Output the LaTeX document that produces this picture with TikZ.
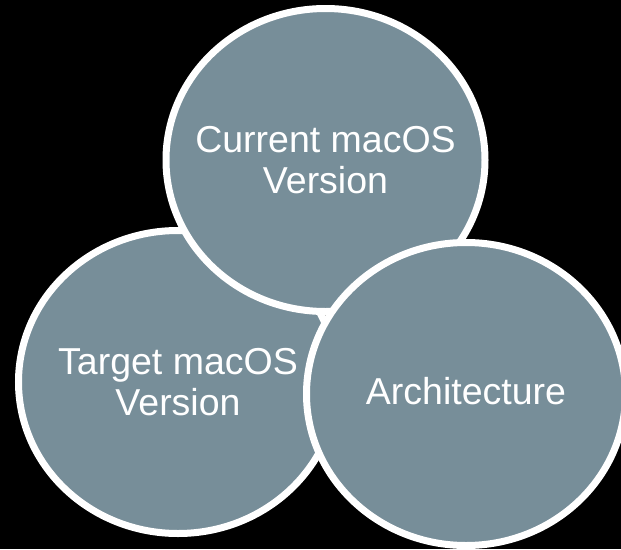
\documentclass[tikz,border=0pt]{standalone}
\usepackage{fontspec}
\setmainfont{Liberation Sans}
\usepackage{tikz}
\usetikzlibrary{shapes.geometric,shadows}
\definecolor{slate}{RGB}{119,142,153}

\begin{document}
\begin{tikzpicture}[
    x=1pt, y=-1pt,
    bubble/.style={ellipse, draw=white, line width=7pt, fill=slate, minimum width=319pt, minimum height=303pt, inner sep=0pt,
      drop shadow={shadow xshift=2pt, shadow yshift=-2pt, opacity=0.35}},
    bubbletext/.style={text=white, align=center, font=\fontsize{37.5}{41}\selectfont}
  ]

  % Background
  \fill[black] (0,0) rectangle (621,549);
  \useasboundingbox (0,0) rectangle (621,549);

  % Circles (back to front)
  \node[bubble] (target) at (178,382) {};
  \node[bubble] (current) at (325.5,160) {};
  \node[bubble] (arch) at (466,394) {};

  % Texts
  \node[bubbletext] (target_txt) at (target.center) {Target macOS\\Version};
  \node[bubbletext] (current_txt) at (current.center) {Current macOS\\Version};
  \node[bubbletext, yshift=3pt] (arch_txt) at (arch.center) {Architecture};

\end{tikzpicture}
\end{document}
